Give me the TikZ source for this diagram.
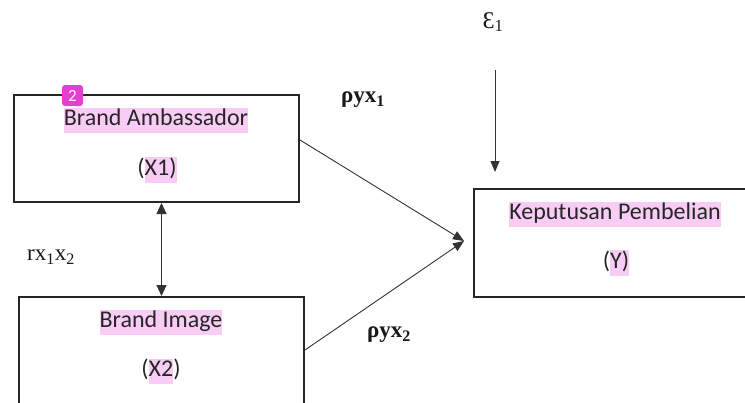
\documentclass[tikz,border=0pt]{standalone}
\usepackage{fontspec}
\setmainfont{Carlito}
\newfontfamily\serif{Liberation Serif}
\usetikzlibrary{arrows.meta,calc}
\definecolor{hlpink}{HTML}{F9CCF6}
\definecolor{badge}{HTML}{E43FD2}
\newcommand\hl[1]{{\setlength\fboxsep{0pt}\colorbox{hlpink}{\strut #1}}}
\begin{document}
\begin{tikzpicture}[x=1pt,y=-1pt,
  box/.style={draw=black!85, line width=2pt, inner sep=0pt},
  conn/.style={draw=black!80, line width=0.9pt},
  tip/.style={-{Triangle[length=11pt,width=9pt]}},
  dtip/.style={{Triangle[length=11pt,width=10pt]}-{Triangle[length=11pt,width=10pt]}},
  lbl/.style={font=\fontsize{24}{25}\selectfont, text=black!85, inner sep=0pt},
  ser/.style={font=\serif\fontsize{22}{24}\selectfont, inner sep=0pt, text=black!90}]
\useasboundingbox (0,0) rectangle (745,402);
\clip (0,0) rectangle (745,402);
% boxes
\node[box, minimum width=285pt, minimum height=107pt, anchor=north west] (x1) at (13,94) {};
\node[box, minimum width=285pt, minimum height=150pt, anchor=north west] (x2) at (18,296) {};
\node[box, minimum width=300pt, minimum height=108pt, anchor=north west] (y) at (473,188) {};
% box texts
\node[lbl] (t1) at (156,120) {\hl{Brand Ambassador}};
\node[lbl] (t1b) at (157,170) {(\hl{X1)}};
\node[lbl] (t2) at (161,322) {\hl{Brand Image}};
\node[lbl] (t2b) at (161,371) {(\hl{X2})};
\node[lbl] (t3) at (615,214) {\hl{Keputusan Pembelian}};
\node[lbl] (t3b) at (616,263) {(\hl{Y)}};
% badge
\node[fill=badge, rounded corners=3pt, minimum size=21pt, inner sep=0pt, text=white,
      font=\fontsize{17}{19}\selectfont] (badge) at (72.5,95.5) {2};
% serif labels
\node[ser, font=\serif\fontsize{24}{26}\selectfont] (eps) at (493,22) {Ɛ\textsubscript{1}};
\node[ser, font=\serif\bfseries\fontsize{23}{24}\selectfont] (p1) at (363,100) {ρyx\textsubscript{1}};
\node[ser, font=\serif\bfseries\fontsize{23}{24}\selectfont] (p2) at (389,335) {ρyx\textsubscript{2}};
\node[ser, font=\serif\fontsize{23}{26}\selectfont] (r) at (51,257) {rx\textsubscript{1}x\textsubscript{2}};
% connectors
\coordinate (target) at (464,241);
\coordinate (etop) at (495,70);
\coordinate (ebot) at (495,172);
\draw[conn, tip] ($(x1.north east)+(0,46)$) -- (target);
\draw[conn, tip] ($(x2.north east)+(0,54)$) -- (target);
\draw[conn, tip] (etop) -- (ebot);
\draw[conn, dtip] (x2.north |- x1.south) -- (x2.north);
\end{tikzpicture}
\end{document}
